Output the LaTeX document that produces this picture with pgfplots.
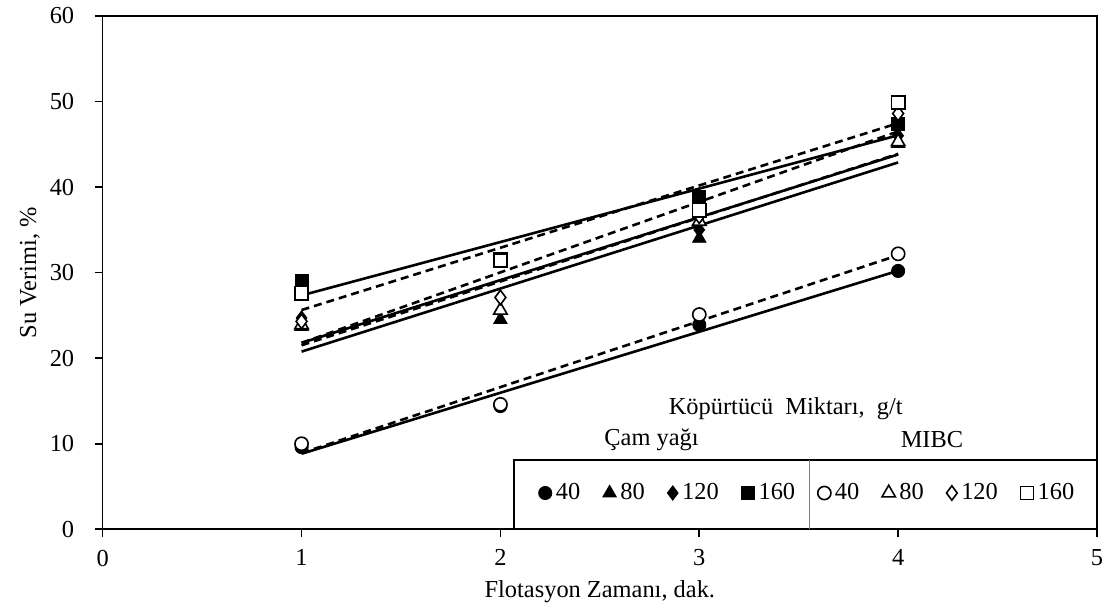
\documentclass[border=0pt]{standalone}
\usepackage{fontspec}
\setmainfont{Liberation Serif}
\usepackage{pgfplots}
\usepackage{pgfplotstable}
\pgfplotsset{compat=1.18}
\pgfplotstableread{
x c40 c80 c120 c160 m40 m80 m120 m160
1 9.6 23.7 24.7 29.0 10.0 23.9 24.3 27.6
2 14.4 24.5 25.5 31.6 14.6 25.6 27.1 31.4
3 23.9 34.0 35.0 38.8 25.1 36.0 36.6 37.3
4 30.2 45.1 46.0 47.4 32.2 45.3 48.6 49.9
}\data
\begin{document}
\fontsize{12.2}{14.6}\selectfont
\begin{tikzpicture}
\useasboundingbox (-51.35pt,-39.85pt) rectangle (503.15pt,264.65pt);
\begin{axis}[
  scale only axis, width=497.15pt, height=256.65pt,
  xmin=0, xmax=5, ymin=0, ymax=60,
  xtick={0,1,2,3,4,5}, ytick={0,10,20,30,40,50,60},
  tick align=outside, tick pos=left,
  major tick length=4pt,
  axis line style={line width=0.8pt},
  every tick/.style={black, line width=0.8pt},
  /pgf/number format/assume math mode=true,
  yticklabel style={xshift=-6pt},
  xticklabel style={yshift=-2pt},
  xlabel={Flotasyon Zamanı, dak.},
  ylabel={Su Verimi, \%},
  every axis x label/.style={at={(axis description cs:0.5,0)}, anchor=center, yshift=-31.35pt},
  every axis y label/.style={at={(axis description cs:0,0.5)}, anchor=center, rotate=90, yshift=36.35pt},
  legend style={at={(axis cs:3.549,4.24)}, anchor=center, draw=none, fill=none,
    /tikz/every even column/.append style={column sep=9.3pt}, inner sep=0pt},
  legend columns=8,
  legend image code/.code={\draw[mark repeat=2,mark phase=2,#1] plot coordinates {(0pt,0pt)(3pt,0pt)(6pt,0pt)};},
  clip=false,
]
% trend lines
\addplot[forget plot, black, line width=1.3pt] table[x=x, y={create col/linear regression={y=c40}}] {\data};
\addplot[forget plot, black, line width=1.3pt] table[x=x, y={create col/linear regression={y=c80}}] {\data};
\addplot[forget plot, black, line width=1.3pt] table[x=x, y={create col/linear regression={y=c120}}] {\data};
\addplot[forget plot, black, line width=1.3pt] table[x=x, y={create col/linear regression={y=c160}}] {\data};
\addplot[forget plot, black, line width=1.3pt, dash pattern=on 4pt off 2.5pt] table[x=x, y={create col/linear regression={y=m40}}] {\data};
\addplot[forget plot, black, line width=1.3pt, dash pattern=on 4pt off 2.5pt] table[x=x, y={create col/linear regression={y=m80}}] {\data};
\addplot[forget plot, black, line width=1.3pt, dash pattern=on 4pt off 2.5pt] table[x=x, y={create col/linear regression={y=m120}}] {\data};
\addplot[forget plot, black, line width=1.3pt, dash pattern=on 4pt off 2.5pt] table[x=x, y={create col/linear regression={y=m160}}] {\data};
% markers
\addplot[only marks, mark=*, mark size=3.3pt, mark options={fill=black, draw=black}] table[x=x,y=c40] {\data};
\addlegendentry{40}
\addplot[only marks, mark=triangle*, mark size=3.9pt, mark options={fill=black, draw=black}] table[x=x,y=c80] {\data};
\addlegendentry{80}
\addplot[only marks, mark=diamond*, mark size=3.6pt, mark options={fill=black, draw=black}] table[x=x,y=c120] {\data};
\addlegendentry{120}
\addplot[only marks, mark=square*, mark size=3.3pt, mark options={fill=black, draw=black}] table[x=x,y=c160] {\data};
\addlegendentry{160}
\addplot[only marks, mark=*, mark size=3.3pt, mark options={fill=white, draw=black, line width=0.8pt}] table[x=x,y=m40] {\data};
\addlegendentry{40}
\addplot[only marks, mark=triangle*, mark size=3.9pt, mark options={fill=white, draw=black, line width=0.8pt}] table[x=x,y=m80] {\data};
\addlegendentry{80}
\addplot[only marks, mark=diamond*, mark size=3.6pt, mark options={fill=white, draw=black, line width=0.8pt}] table[x=x,y=m120] {\data};
\addlegendentry{120}
\addplot[only marks, mark=square*, mark size=3.3pt, mark options={fill=white, draw=black, line width=0.8pt}] table[x=x,y=m160] {\data};
\addlegendentry{160}
% legend frame and divider
\draw[line width=0.8pt, fill=white] (axis cs:2.067,0) rectangle (axis cs:5,8.1);
\draw[gray, line width=0.5pt] (axis cs:3.554,0) -- (axis cs:3.554,8.1);
% annotations
\node[anchor=center] at (axis cs:3.435,14.06) {Köpürtücü\ \ Miktarı,\ \ g/t};
\node[anchor=center] at (axis cs:2.76,10.44) {Çam yağı};
\node[anchor=center] at (axis cs:4.17,10.44) {MIBC};
\end{axis}
\end{tikzpicture}
\end{document}
